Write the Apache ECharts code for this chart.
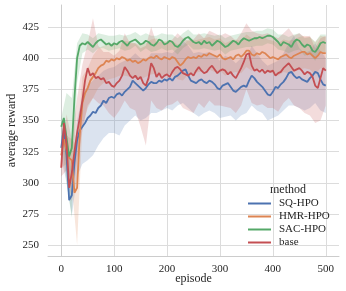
<!DOCTYPE html>
<html><head><meta charset="utf-8">
<script src="https://cdn.jsdelivr.net/npm/echarts@6/dist/echarts.min.js"></script>
<style>html,body{margin:0;padding:0;background:#fff}#c{width:346px;height:291px}</style>
</head><body><div id="c"></div>
<script>
const methods = ['SQ-HPO', 'HMR-HPO', 'SAC-HPO', 'base'];
const xTicks = [0, 100, 200, 300, 400, 500];
const yTicks = [250, 275, 300, 325, 350, 375, 400, 425];

const episodes = [0,5,10,15,20,25,30,35,40,45,50,55,60,65,70,75,80,85,90,95,
100,105,110,115,120,125,130,135,140,145,150,155,160,165,170,175,180,185,190,195,
200,205,210,215,220,225,230,235,240,245,250,255,260,265,270,275,280,285,290,295,
300,305,310,315,320,325,330,335,340,345,350,355,360,365,370,375,380,385,390,395,
400,405,410,415,420,425,430,435,440,445,450,455,460,465,470,475,480,485,490,495,500];

const meanSQ = [328,344,322,286,290,316,334,342,345,348,352,354,357,356,360,362,366,364,368,369,
368,371,372,370,373,375,377,382,380,378,376,374,376,379,381,380,380,382,381,383,
382,384,382,385,386,388,390,391,386,382,381,380,382,383,381,380,382,381,379,376,
375,378,379,380,377,374,373,375,377,378,377,382,386,384,381,379,377,374,371,370,
373,377,376,379,381,384,388,389,386,384,385,383,382,381,384,386,389,388,383,379,378];

const meanHMR = [322,335,326,320,318,292,296,338,364,372,376,382,385,388,392,394,395,398,397,399,
398,400,399,401,400,398,399,397,398,396,397,399,398,400,401,400,402,400,399,401,
400,399,401,400,397,394,396,399,401,400,401,400,402,401,403,402,404,403,402,401,
403,400,399,400,401,399,402,403,401,403,406,406,403,402,404,403,405,404,402,400,
401,400,399,401,402,403,401,400,402,403,404,405,405,403,404,402,400,402,405,404,404];

const meanSAC = [345,352,336,321,328,368,400,410,412,411,413,411,409,412,414,415,413,411,412,410,
412,411,413,414,412,410,413,414,415,413,411,412,414,413,411,410,412,415,414,411,
412,414,413,410,409,411,414,416,417,415,413,412,413,411,414,412,413,410,412,414,
413,411,409,410,412,414,413,411,414,416,415,414,415,416,416,417,416,417,418,418,
417,415,413,410,413,412,411,409,413,415,414,411,409,411,410,406,405,408,412,413,412];

const meanBase = [312,348,332,296,308,325,340,352,366,382,392,386,388,384,385,383,384,380,381,378,
377,380,382,386,393,390,386,384,386,383,385,380,378,384,396,392,385,388,384,386,
387,385,389,392,393,391,388,387,386,388,386,390,393,390,388,389,392,394,391,388,
390,391,390,387,389,386,384,388,392,397,403,404,394,390,391,389,391,388,390,389,
390,386,388,389,392,394,396,393,390,391,392,390,387,389,388,385,378,376,384,392,390];

const bandEpisodes = [0,10,20,30,40,50,60,70,80,90,100,110,120,130,140,150,160,170,180,190,
200,210,220,230,240,250,260,270,280,290,300,310,320,330,340,350,360,370,380,390,
400,410,420,430,440,450,460,470,480,490,500];

const lowSQ = [320,300,274,305,315,318,322,330,336,340,340,338,346,350,354,350,352,356,356,358,
360,358,362,364,360,356,353,356,358,356,352,353,354,350,354,356,362,358,356,350,
352,354,358,362,362,360,358,360,364,358,356];
const highSQ = [338,342,305,350,370,378,382,386,390,392,393,396,398,400,404,400,398,404,404,404,
405,404,408,414,410,404,405,404,405,402,398,402,400,396,400,400,410,404,398,394,
396,398,404,412,418,408,404,406,412,406,400];

const lowHMR = [312,315,298,250,345,360,368,376,380,383,384,386,386,385,384,383,385,387,388,386,
387,388,383,382,387,388,389,390,391,389,390,386,388,389,388,393,390,391,392,389,
388,386,389,388,389,391,392,391,387,392,391];
const highHMR = [332,338,335,330,385,392,402,408,410,411,412,412,414,413,412,411,412,415,416,413,
414,414,411,410,415,414,415,416,417,415,416,412,414,415,414,419,416,417,418,415,
414,412,415,414,415,417,418,417,413,418,417];

const lowSAC = [338,300,272,380,404,407,404,408,408,406,407,408,406,407,410,405,408,405,406,408,
406,407,403,408,411,407,407,408,407,406,407,403,406,407,408,409,409,410,410,412,
411,407,406,404,406,407,402,403,398,405,405];
const highSAC = [352,372,368,412,420,419,416,420,419,418,418,419,418,419,421,418,420,418,418,420,
419,419,416,420,423,419,419,420,419,418,419,416,418,419,420,421,421,422,422,424,
423,419,419,417,419,420,416,417,413,419,419];

const lowBase = [305,310,285,318,342,362,368,364,362,356,352,358,366,360,358,345,330,366,360,358,
362,363,366,360,358,356,364,360,366,362,362,361,360,356,362,375,364,362,363,360,
360,357,364,368,362,360,356,354,348,350,362];
const highBase = [318,355,335,368,395,412,432,410,405,405,402,406,420,412,412,408,410,425,412,414,
412,415,420,416,414,415,420,416,422,420,418,420,418,414,420,428,422,420,419,420,
418,416,420,424,418,420,417,418,408,416,418];

const colors = ['#4c72b0', '#dd8452', '#55a868', '#c44e52'];
const means = [meanSQ, meanHMR, meanSAC, meanBase];
const lows = [lowSQ, lowHMR, lowSAC, lowBase];
const highs = [highSQ, highHMR, highSAC, highBase];

const FONT = '"Liberation Serif", "DejaVu Serif", serif';
const series = [];
methods.forEach((m, k) => {
  series.push({
    type: 'custom', name: m + ' band', silent: true, clip: true,
    data: bandEpisodes.map((e, i) => [e, lows[k][i], highs[k][i]]),
    encode: { x: 0, y: [1, 2] },
    renderItem: function (params, api) {
      if (params.dataIndex !== 0) return null;
      const pts = [];
      for (let i = 0; i < bandEpisodes.length; i++) pts.push(api.coord([bandEpisodes[i], highs[k][i]]));
      for (let i = bandEpisodes.length - 1; i >= 0; i--) pts.push(api.coord([bandEpisodes[i], lows[k][i]]));
      return { type: 'polygon', shape: { points: pts }, style: { fill: colors[k], opacity: 0.2 } };
    }
  });
  series.push({
    type: 'line', name: m, showSymbol: false, symbol: 'none',
    data: episodes.map((e, i) => [e, means[k][i]]),
    lineStyle: { width: 1.8, color: colors[k] },
    itemStyle: { color: colors[k] },
    emphasis: { disabled: true }
  });
});

const chart = echarts.init(document.getElementById('c'), null, { renderer: 'canvas' });
chart.setOption({
  animation: false,
  backgroundColor: '#ffffff',
  grid: { left: 48, right: 7, top: 5, bottom: 35, containLabel: false, outerBoundsMode: 'none' },
  xAxis: {
    type: 'value', min: -25, max: 525,
    name: 'episode', nameLocation: 'middle', nameGap: 17, nameMoveOverlap: false,
    nameTextStyle: { fontFamily: FONT, fontSize: 12, color: '#262626' },
    axisLine: { show: true, lineStyle: { color: '#cccccc', width: 1 } },
    axisTick: { show: false, customValues: xTicks },
    axisLabel: { customValues: xTicks, fontFamily: FONT, fontSize: 11, color: '#262626', margin: 8 },
    splitLine: { show: true, lineStyle: { color: '#dcdcdc', width: 1 } }
  },
  yAxis: {
    type: 'value', min: 241.2, max: 442.7,
    name: 'average reward', nameLocation: 'middle', nameGap: 30, nameMoveOverlap: false,
    nameTextStyle: { fontFamily: FONT, fontSize: 12, color: '#262626' },
    axisLine: { show: true, lineStyle: { color: '#cccccc', width: 1 } },
    axisTick: { show: false, customValues: yTicks },
    axisLabel: { customValues: yTicks, fontFamily: FONT, fontSize: 11, color: '#262626', margin: 9 },
    splitLine: { show: true, lineStyle: { color: '#dcdcdc', width: 1 } }
  },
  legend: {
    data: methods.map(n => ({ name: n, icon: 'rect' })),
    orient: 'vertical', left: 243, top: 192, itemGap: 0,
    itemWidth: 23, itemHeight: 2,
    selectedMode: false,
    textStyle: { fontFamily: FONT, fontSize: 11, color: '#262626', lineHeight: 13, padding: [0, 0, 0, 3] }
  },
  graphic: [{
    type: 'text', left: 270, top: 184,
    style: { text: 'method', font: '12px ' + FONT, fill: '#262626' }
  }],
  series: series
});
</script>
</body></html>
